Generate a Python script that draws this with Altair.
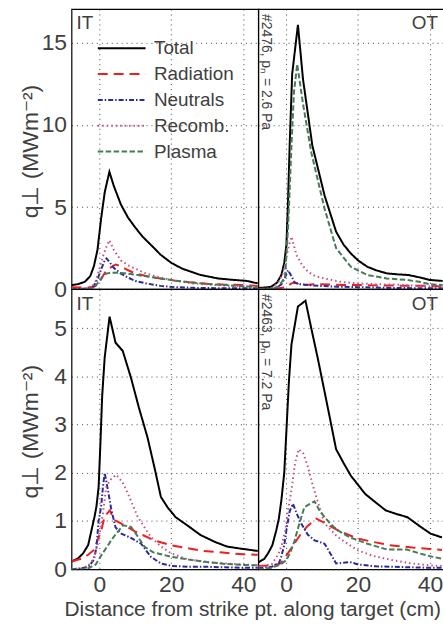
import altair as alt
import pandas as pd

FONT = "Liberation Sans"
TXT = "#404040"

SERIES = ["Total", "Radiation", "Neutrals", "Recomb.", "Plasma"]
COLORS = ["#000000", "#f01e1e", "#2a2a9c", "#c64f80", "#467a58"]
DASHES = [[1, 0], [10, 6], [5, 2, 1.5, 2], [1.5, 3], [5.5, 2.5]]
X_TICKS = [0, 20, 40]
TOP_Y_TICKS = [0, 5, 10, 15]
BOT_Y_TICKS = [0, 1, 2, 3, 4, 5]
X_DOMAIN = [-7.72, 44.14]
TOP_Y_DOMAIN = [0, 17.06]
BOT_Y_DOMAIN = [0, 5.81]
PANEL_LABELS = ["IT", "OT"]
SHOT_LABELS = ["#2476, pₙ = 2.6 Pa", "#2463, pₙ = 7.2 Pa"]
X_TITLE = "Distance from strike pt. along target (cm)"
Y_TITLE = "q⊥ (MWm⁻²)"

# ---- #2476, inner target (IT) ----
it1_total_x = [-7.7, -6, -4, -2.5, -1.5, -0.5, 0.5, 1.5, 2.8, 4, 6, 8, 10, 12, 15, 17, 20, 23, 28, 33, 37, 41, 44]
it1_total_y = [0.25, 0.3, 0.45, 0.8, 1.4, 2.4, 4.3, 5.9, 7.15, 6.3, 5.15, 4.35, 3.75, 3.2, 2.55, 2.1, 1.6, 1.25, 0.87, 0.65, 0.57, 0.5, 0.35]
it1_rad_x = [-7.7, -5, -3, -1.5, 0, 1, 2, 3, 4.5, 6, 8, 10, 13, 17, 21, 25, 30, 35, 40, 44]
it1_rad_y = [0.12, 0.1, 0.1, 0.15, 0.4, 0.8, 1.15, 1.3, 1.5, 1.4, 1.15, 0.95, 0.8, 0.65, 0.52, 0.42, 0.33, 0.27, 0.25, 0.2]
it1_neu_x = [-7.7, -5, -3, -1.5, -0.5, 0.5, 1.5, 2, 3, 4, 6, 8, 10, 13, 17, 21, 26, 32, 38, 44]
it1_neu_y = [0.0, 0.02, 0.05, 0.2, 0.6, 1.2, 1.75, 1.87, 1.6, 1.3, 0.95, 0.7, 0.5, 0.35, 0.2, 0.12, 0.08, 0.06, 0.05, 0.05]
it1_rec_x = [-7.7, -5, -3, -2, -1, 0, 1, 2, 2.8, 4, 6, 8, 10, 13, 17, 21, 26, 32, 38, 44]
it1_rec_y = [0.0, 0.02, 0.05, 0.15, 0.5, 1.2, 2.0, 2.6, 2.98, 2.4, 1.75, 1.45, 1.25, 0.95, 0.7, 0.52, 0.35, 0.25, 0.18, 0.15]
it1_pla_x = [-7.7, -4, -2, -1, 0, 1, 2, 3, 5, 7, 10, 13, 17, 21, 25, 30, 35, 40, 44]
it1_pla_y = [0.0, 0.0, 0.05, 0.2, 0.5, 0.8, 0.95, 1.0, 1.0, 0.97, 0.88, 0.78, 0.65, 0.52, 0.42, 0.32, 0.25, 0.18, 0.12]

# ---- #2476, outer target (OT) ----
ot1_total_x = [-7.7, -5.5, -4.1, -2.5, -1.3, -0.5, 0.1, 0.5, 1.0, 1.7, 3.3, 4.7, 7.3, 10.7, 13.9, 16, 18, 20, 22.6, 25, 28, 31, 34, 37, 40, 43.5]
ot1_total_y = [0.08, 0.1, 0.15, 0.4, 0.86, 1.6, 2.7, 5.0, 8.75, 13.1, 16.1, 12.8, 8.75, 5.7, 3.5, 2.7, 2.17, 1.75, 1.36, 1.15, 0.96, 0.9, 0.86, 0.72, 0.56, 0.5]
ot1_rad_x = [-7.7, -3, -1, 0.5, 1.5, 2.5, 3.5, 5, 8, 12, 16, 20, 25, 30, 35, 40, 43.5]
ot1_rad_y = [0.02, 0.03, 0.08, 0.2, 0.35, 0.4, 0.3, 0.25, 0.3, 0.28, 0.25, 0.25, 0.23, 0.22, 0.2, 0.2, 0.18]
ot1_neu_x = [-7.7, -4, -2.5, -1.3, -0.3, 0.55, 1.5, 2.4, 4, 6, 9, 14, 20, 28, 36, 43.5]
ot1_neu_y = [0.0, 0.02, 0.1, 0.3, 0.7, 1.16, 0.8, 0.4, 0.3, 0.25, 0.2, 0.15, 0.12, 0.08, 0.06, 0.05]
ot1_rec_x = [-7.7, -4, -2.2, -1, -0.3, 0.5, 1.5, 2.9, 4.5, 6.1, 8, 10.7, 15, 19.7, 25, 30, 35, 40, 43.5]
ot1_rec_y = [0.0, 0.05, 0.4, 0.9, 1.5, 2.4, 3.2, 2.07, 1.45, 1.06, 0.8, 0.65, 0.45, 0.35, 0.3, 0.28, 0.22, 0.17, 0.15]
ot1_pla_x = [-7.7, -4, -2.2, -0.3, 0.55, 1.0, 1.5, 2.2, 3.1, 4.7, 7.0, 10.7, 13.9, 18, 22.6, 28, 33.5, 37, 40, 43.5]
ot1_pla_y = [0.0, 0.02, 0.15, 0.7, 3.7, 6.0, 8.75, 12.0, 13.7, 11.3, 8.33, 4.9, 2.5, 1.36, 0.86, 0.65, 0.56, 0.45, 0.3, 0.25]

# ---- #2463, inner target (IT) ----
it2_total_x = [-7.7, -6, -4.5, -3.1, -2.2, -1.3, -0.8, -0.2, 0.3, 0.8, 1.5, 2.85, 4.5, 6.5, 8.8, 11, 13.4, 15.5, 17.1, 19, 21.2, 25, 28.1, 32, 35.5, 40, 44]
it2_total_y = [0.16, 0.22, 0.33, 0.5, 0.8, 1.1, 1.3, 1.7, 2.6, 3.6, 4.4, 5.24, 4.7, 4.53, 3.97, 3.35, 2.73, 2.05, 1.5, 1.28, 1.08, 0.88, 0.71, 0.57, 0.47, 0.42, 0.38]
it2_rad_x = [-7.7, -5, -3.1, -1.5, -0.5, 0.55, 1.5, 2.9, 4.2, 6, 7.9, 10, 15.2, 19.9, 25, 29, 35, 40, 44]
it2_rad_y = [0.16, 0.22, 0.3, 0.4, 0.6, 0.81, 1.1, 1.22, 1.02, 0.95, 0.87, 0.78, 0.6, 0.5, 0.43, 0.38, 0.34, 0.31, 0.3]
it2_neu_x = [-7.7, -5, -3, -1.5, -0.8, -0.2, 0.5, 1.0, 1.5, 2.5, 3.3, 4.5, 6.1, 8.8, 11.6, 14.3, 17.1, 20, 25, 30, 35, 40, 44]
it2_neu_y = [0.0, 0.02, 0.05, 0.2, 0.45, 1.0, 1.3, 1.7, 2.0, 1.6, 1.25, 0.87, 0.74, 0.65, 0.53, 0.26, 0.12, 0.07, 0.05, 0.05, 0.04, 0.03, 0.03]
it2_rec_x = [-7.7, -5, -3, -1.7, -0.5, 0.1, 1.0, 1.9, 3.0, 4.7, 6.5, 8, 10.7, 14.3, 17, 19.9, 24, 29, 35, 40, 44]
it2_rec_y = [0.0, 0.02, 0.08, 0.2, 0.5, 0.75, 1.15, 1.7, 1.85, 1.96, 1.8, 1.56, 1.08, 0.67, 0.48, 0.33, 0.22, 0.15, 0.12, 0.1, 0.08]
it2_pla_x = [-7.7, -5, -3, -1, 0.55, 2, 3.3, 4.7, 6.6, 8.8, 10.5, 12.5, 15, 19.9, 25, 30, 35, 40, 44]
it2_pla_y = [0.0, 0.0, 0.02, 0.1, 0.29, 0.45, 0.6, 0.74, 0.91, 0.88, 0.7, 0.47, 0.35, 0.26, 0.2, 0.15, 0.11, 0.09, 0.08]

# ---- #2463, outer target (OT) ----
ot2_total_x = [-7.7, -6, -5, -3.8, -2.7, -2, -1.3, -0.5, 0.1, 0.8, 1.5, 3.3, 5.4, 7, 8.8, 11.6, 13.9, 16, 18, 20, 22, 25, 27.7, 30.5, 33.7, 37, 40.1, 43.3]
ot2_total_y = [0.14, 0.22, 0.33, 0.5, 0.81, 1.05, 1.43, 2.0, 2.87, 3.9, 4.66, 5.45, 5.57, 5.0, 4.38, 3.35, 2.49, 2.2, 1.94, 1.75, 1.56, 1.38, 1.22, 1.15, 1.08, 0.9, 0.74, 0.66]
ot2_rad_x = [-7.7, -4, -1.5, 0.5, 2, 4.2, 6, 8.4, 11, 14.3, 19.7, 24, 28.8, 35, 40, 43.3]
ot2_rad_y = [0.07, 0.08, 0.12, 0.33, 0.5, 0.74, 0.9, 1.05, 0.95, 0.81, 0.64, 0.57, 0.5, 0.45, 0.42, 0.4]
ot2_neu_x = [-7.7, -4, -2, -1.3, -0.5, 0.1, 1.0, 1.9, 3, 4.2, 6, 7.9, 10.7, 12.5, 13.9, 15.5, 17.7, 20, 25, 30, 35, 40, 43.3]
ot2_neu_y = [0.02, 0.05, 0.12, 0.27, 0.5, 0.81, 1.2, 1.36, 1.15, 0.95, 0.72, 0.6, 0.53, 0.3, 0.12, 0.13, 0.15, 0.1, 0.06, 0.05, 0.04, 0.03, 0.03]
ot2_rec_x = [-7.7, -4, -2, -1, -0.2, 0.5, 1.5, 2.5, 3.5, 4.8, 6.1, 7.2, 8.4, 10.7, 14.3, 19.7, 24, 28.8, 35, 40, 43.3]
ot2_rec_y = [0.05, 0.1, 0.33, 0.55, 0.81, 1.2, 1.64, 2.2, 2.49, 2.4, 2.12, 1.8, 1.5, 0.95, 0.67, 0.4, 0.28, 0.2, 0.12, 0.08, 0.07]
ot2_pla_x = [-7.7, -4, -1.5, 0.1, 1.2, 2.4, 3.7, 5.1, 6.5, 7.9, 9.3, 10.7, 12.5, 14.3, 17.7, 22.6, 28, 33.5, 37, 40, 43.3]
ot2_pla_y = [0.0, 0.03, 0.1, 0.19, 0.35, 0.6, 0.95, 1.29, 1.35, 1.41, 1.22, 1.08, 0.93, 0.81, 0.66, 0.53, 0.41, 0.41, 0.33, 0.27, 0.22]

PANELS = {
    "it1": [(it1_total_x, it1_total_y), (it1_rad_x, it1_rad_y), (it1_neu_x, it1_neu_y), (it1_rec_x, it1_rec_y), (it1_pla_x, it1_pla_y)],
    "ot1": [(ot1_total_x, ot1_total_y), (ot1_rad_x, ot1_rad_y), (ot1_neu_x, ot1_neu_y), (ot1_rec_x, ot1_rec_y), (ot1_pla_x, ot1_pla_y)],
    "it2": [(it2_total_x, it2_total_y), (it2_rad_x, it2_rad_y), (it2_neu_x, it2_neu_y), (it2_rec_x, it2_rec_y), (it2_pla_x, it2_pla_y)],
    "ot2": [(ot2_total_x, ot2_total_y), (ot2_rad_x, ot2_rad_y), (ot2_neu_x, ot2_neu_y), (ot2_rec_x, ot2_rec_y), (ot2_pla_x, ot2_pla_y)],
}

W, H = 188, 282
TICK_FS = 23


def frame(key):
    rows = []
    for name, (xs, ys) in zip(SERIES, PANELS[key]):
        for i, (xv, yv) in enumerate(zip(xs, ys)):
            rows.append({"series": name, "x": xv, "y": yv, "i": i})
    return pd.DataFrame(rows)


def make_legend():
    return alt.Legend(
        orient="none", legendX=36, legendY=25, title=None,
        symbolType="M-1.8,0H1.8", symbolSize=715, symbolStrokeWidth=2,
        labelFontSize=19, labelFont=FONT, labelColor=TXT,
        rowPadding=1, labelOffset=18, padding=0, symbolOpacity=1,
    )


def panel(key, top, left):
    df = frame(key)
    y_ticks = TOP_Y_TICKS if top else BOT_Y_TICKS
    y_domain = TOP_Y_DOMAIN if top else BOT_Y_DOMAIN
    show_legend = top and left
    y_scale = alt.Scale(domain=y_domain, nice=False, zero=False)
    x_scale = alt.Scale(domain=X_DOMAIN, nice=False, zero=False)

    if left:
        y_axis = alt.Axis(values=y_ticks, grid=True, labels=True, labelFontSize=TICK_FS,
                          labelPadding=5, labelColor=TXT, labelFont=FONT,
                          title=Y_TITLE, titleFontSize=23, titleFont=FONT, titleColor=TXT,
                          titleFontWeight="normal", titleX=-41, titleY=H / 2 + 2,
                          titleAngle=270, titleAlign="center", titleBaseline="middle")
        y_enc = alt.Y("y:Q", scale=y_scale, axis=y_axis)
    else:
        y_axis = alt.Axis(values=y_ticks, grid=True, labels=False)
        y_enc = alt.Y("y:Q", scale=y_scale, axis=y_axis, title=None)

    if top:
        x_axis = alt.Axis(values=X_TICKS, grid=True, labels=False)
        x_enc = alt.X("x:Q", scale=x_scale, axis=x_axis, title=None)
    elif left:
        x_axis = alt.Axis(values=X_TICKS, grid=True, labels=True, labelFontSize=TICK_FS,
                          labelPadding=4, labelColor=TXT, labelFont=FONT,
                          title=X_TITLE, titleFontSize=21, titleFont=FONT, titleColor=TXT,
                          titleFontWeight="normal", titleX=182, titleY=47,
                          titleAlign="center", titleBaseline="alphabetic")
        x_enc = alt.X("x:Q", scale=x_scale, axis=x_axis)
    else:
        x_axis = alt.Axis(values=X_TICKS, grid=True, labels=True, labelFontSize=TICK_FS,
                          labelPadding=4, labelColor=TXT, labelFont=FONT)
        x_enc = alt.X("x:Q", scale=x_scale, axis=x_axis, title=None)

    if show_legend:
        color = alt.Color("series:N", scale=alt.Scale(domain=SERIES, range=COLORS), legend=make_legend())
        dash = alt.StrokeDash("series:N", scale=alt.Scale(domain=SERIES, range=DASHES), legend=make_legend())
    else:
        color = alt.Color("series:N", scale=alt.Scale(domain=SERIES, range=COLORS), legend=None)
        dash = alt.StrokeDash("series:N", scale=alt.Scale(domain=SERIES, range=DASHES), legend=None)

    lines = alt.Chart(df).mark_line(strokeWidth=2, clip=True).encode(
        x=x_enc, y=y_enc, color=color, strokeDash=dash, order="i:Q"
    )

    corner = PANEL_LABELS[0] if left else PANEL_LABELS[1]
    corner_txt = alt.Chart(pd.DataFrame({"t": [corner]})).mark_text(
        align="left" if left else "right", baseline="alphabetic", fontSize=19,
        font=FONT, color=TXT,
    ).encode(x=alt.value(5 if left else 181), y=alt.value(20 if top else 21), text="t:N")

    layers = [lines, corner_txt]
    if not left:
        shot = SHOT_LABELS[0] if top else SHOT_LABELS[1]
        shot_txt = alt.Chart(pd.DataFrame({"t": [shot]})).mark_text(
            align="left", baseline="middle", angle=90, fontSize=14, font=FONT, color=TXT,
        ).encode(x=alt.value(8), y=alt.value(5), text="t:N")
        layers.append(shot_txt)

    return alt.layer(*layers).properties(width=W, height=H)


chart = alt.concat(
    panel("it1", True, True), panel("ot1", True, False),
    panel("it2", False, True), panel("ot2", False, False),
    columns=2, spacing=0, bounds="flush",
).resolve_legend(color="independent", strokeDash="independent") \
    .properties(padding={"left": 19, "top": 6, "right": -3, "bottom": 0}, background="white") \
    .configure_view(stroke="#000000", strokeWidth=1.2) \
    .configure_axis(domain=False, ticks=False, gridColor="#333333", gridDash=[1, 4],
                    gridWidth=1, gridOpacity=0.9)

chart.save("out.html", embed_options={"renderer": "svg", "actions": False})
